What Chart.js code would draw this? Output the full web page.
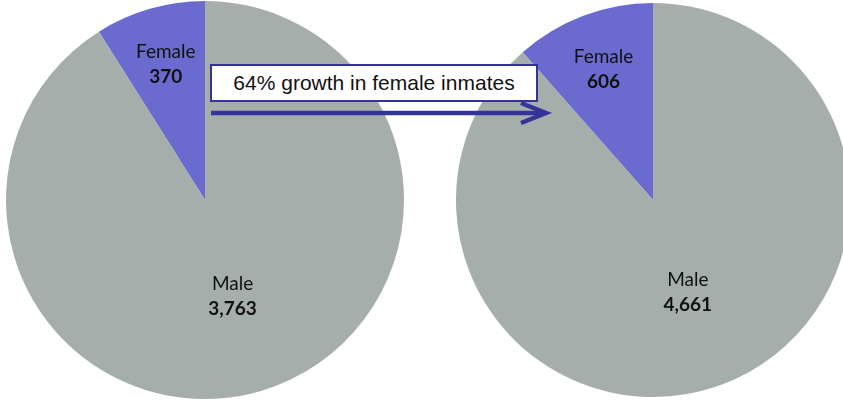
<!DOCTYPE html>
<html>
<head>
<meta charset="utf-8">
<script src="https://cdn.jsdelivr.net/npm/chart.js@4"></script>
<style>
  html, body { margin: 0; padding: 0; background: #fff; }
  #wrap { position: relative; width: 843px; height: 401px; overflow: hidden; }
  canvas { position: absolute; }
  #leftPie { left: 6px; top: 1px; }
  #rightPie { left: 456px; top: 3px; }
  #note {
    position: absolute; left: 210px; top: 64px; width: 324px; height: 34px;
    background: #fff; border: 2px solid #333399;
    font: 21px "Liberation Sans", Arial, sans-serif; color: #111;
    text-align: center; line-height: 34px;
  }
  #arrow { position: absolute; left: 0; top: 0; }
</style>
</head>
<body>
<div id="wrap">
  <canvas id="leftPie" width="398" height="398"></canvas>
  <canvas id="rightPie" width="394" height="394"></canvas>
  <svg id="arrow" width="843" height="401">
    <line x1="211" y1="113" x2="545" y2="113" stroke="#333399" stroke-width="4.5"/>
    <polyline points="521,103 546,113 521,123" fill="none" stroke="#333399" stroke-width="4.5" stroke-linejoin="miter"/>
  </svg>
  <div id="note">64% growth in female inmates</div>
</div>
<script>
// categories and values
const categories = ['Female', 'Male'];
const beforeValues = [370, 3763];
const afterValues = [606, 4661];
const sliceColors = ['#6B6BCF', '#A6AEAC'];
// label distance from centre, as share of radius
const labelSpots = [0.71, 0.5];

// name + value inside each slice
const sliceLabels = {
  id: 'sliceLabels',
  afterDatasetsDraw(chart) {
    const ctx = chart.ctx;
    const values = chart.data.datasets[0].data;
    chart.getDatasetMeta(0).data.forEach((arc, i) => {
      const p = arc.getProps(['x', 'y', 'startAngle', 'endAngle', 'outerRadius'], true);
      const mid = (p.startAngle + p.endAngle) / 2;
      const r = p.outerRadius * labelSpots[i];
      const lx = p.x + Math.cos(mid) * r;
      const ly = p.y + Math.sin(mid) * r;
      ctx.save();
      ctx.fillStyle = '#111';
      ctx.textAlign = 'center';
      ctx.textBaseline = 'middle';
      ctx.font = '19px Lato, "Open Sans", sans-serif';
      ctx.fillText(chart.data.labels[i], lx, ly - 12);
      ctx.font = 'bold 19px Lato, "Open Sans", sans-serif';
      ctx.fillText(values[i].toLocaleString('en-US'), lx, ly + 13);
      ctx.restore();
    });
  }
};

function drawPie(id, values) {
  const total = values.reduce((a, b) => a + b, 0);
  // female slice ends at 12 o'clock
  const rot = -values[0] / total * 360;
  new Chart(document.getElementById(id).getContext('2d'), {
    type: 'pie',
    data: {
      labels: categories,
      datasets: [{ data: values, backgroundColor: sliceColors, borderWidth: 0 }]
    },
    options: {
      responsive: false,
      animation: false,
      devicePixelRatio: 1,
      rotation: rot,
      layout: { padding: 0 },
      plugins: { legend: { display: false }, tooltip: { enabled: false } }
    },
    plugins: [sliceLabels]
  });
}

drawPie('leftPie', beforeValues);
drawPie('rightPie', afterValues);
</script>
</body>
</html>
